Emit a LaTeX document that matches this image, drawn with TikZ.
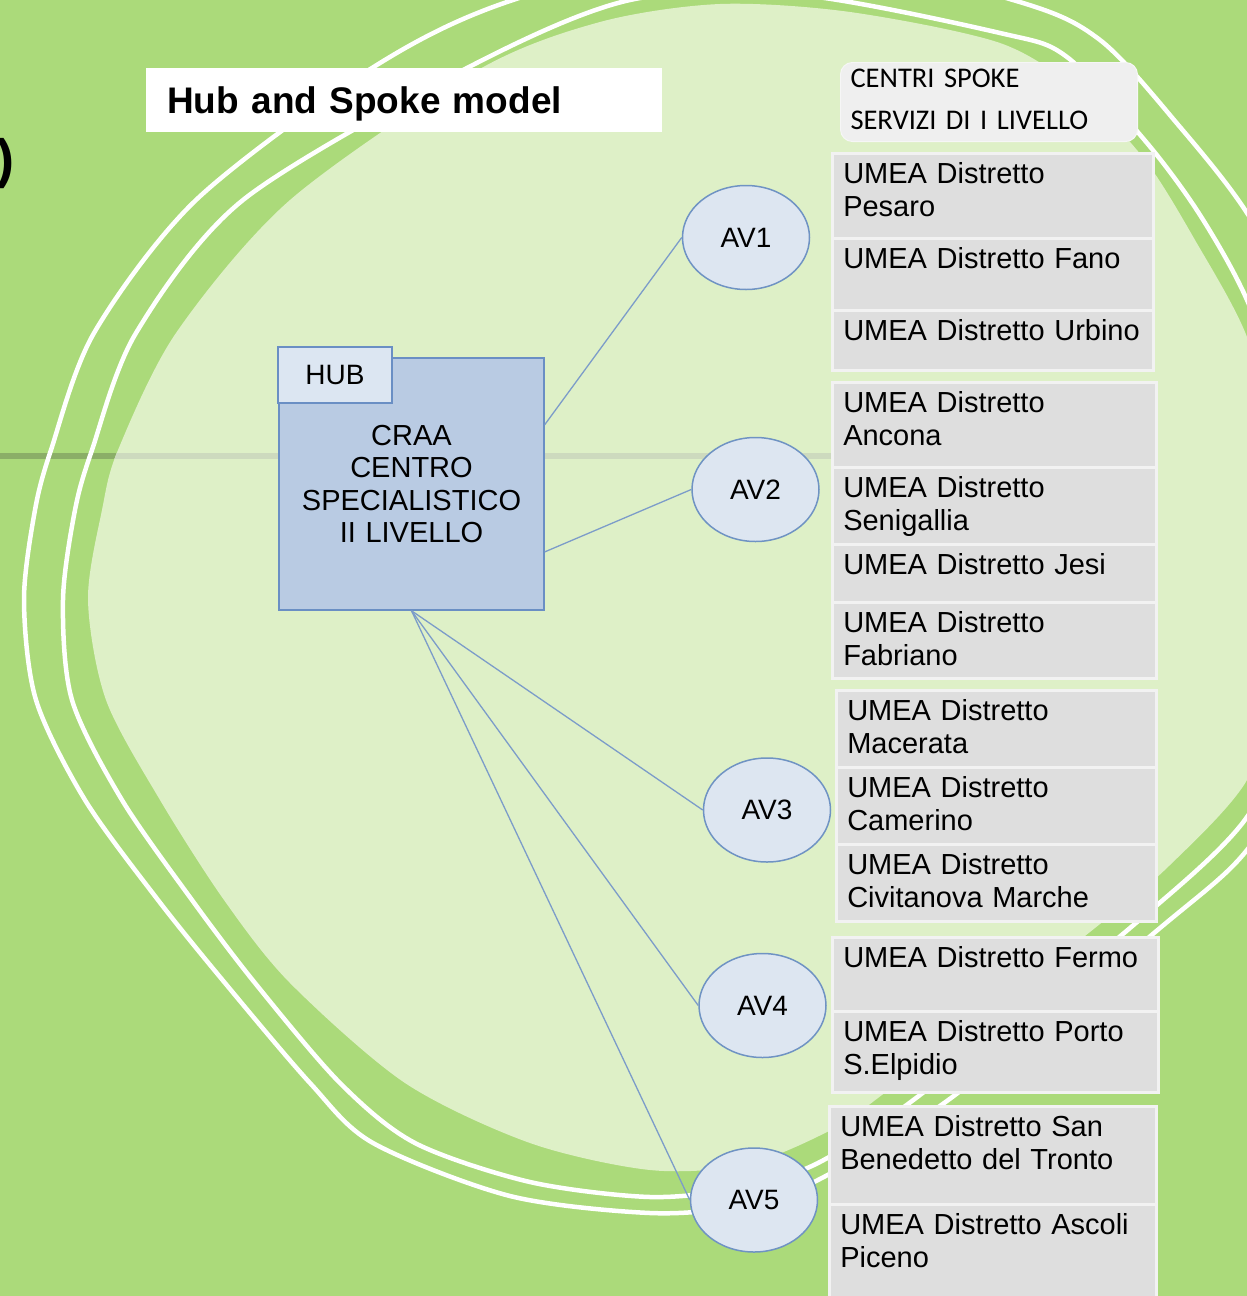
\documentclass[tikz,border=0pt]{standalone}
\usepackage{fontspec}
\setmainfont{Liberation Sans}
\newfontfamily\carlitofont{Carlito}
\usetikzlibrary{shapes.geometric}
\definecolor{bgGreen}{HTML}{ABDA7A}
\definecolor{lightGreen}{HTML}{DEF0C7}
\definecolor{barDark}{HTML}{8BAE67}
\definecolor{barLight}{HTML}{CDDABE}
\definecolor{boxGray}{HTML}{DEDEDE}
\definecolor{boxEdge}{HTML}{F2F2F2}
\definecolor{spokeGray}{HTML}{EFEFEF}
\definecolor{spokeEdge}{HTML}{F6F6F6}
\definecolor{hubFill}{HTML}{B9CBE3}
\definecolor{hubEdge}{HTML}{6A8FC4}
\definecolor{tabFill}{HTML}{DCE6F2}
\definecolor{avFill}{HTML}{DDE6F1}
\definecolor{avEdge}{HTML}{6F93C3}
\definecolor{linkBlue}{HTML}{7C9CC9}
\newcommand\umeafont{\fontsize{29}{33}\selectfont}
\newcommand\blobpts{(290,200) (176,333) (118,450) (102,510) (88,600) (106,700) (160,800) (224,900) (290,983) (405,1083) (530,1143) (650,1170) (745,1165) (825,1133) (878,1098) (1095,928) (1170,865) (1247,780) (1275,680) (1285,560) (1275,450) (1247,337) (1195,240) (1145,160) (1080,92) (1000,43) (850,12) (720,4) (600,22) (478,70)}
\newcommand\innerpts{(243,200) (136,333) (92,450) (75,510) (63,600) (72,700) (122,800) (192,900) (255,983) (340,1083) (415,1143) (530,1182) (650,1197) (740,1188) (818,1163) (916,1098) (1130,928) (1247,817) (1290,700) (1305,560) (1290,420) (1247,300) (1200,215) (1147,143) (1067,57) (1000,33) (800,-5) (630,0) (467,68)}
\newcommand\outerpts{(196,200) (94,333) (51,450) (35,510) (24,600) (36,700) (85,800) (158,900) (225,983) (310,1083) (373,1143) (510,1196) (650,1213) (740,1206) (818,1180) (951,1098) (1160,928) (1247,850) (1310,740) (1335,560) (1310,330) (1247,213) (1180,127) (1100,40) (1013,0) (760,-60) (513,0) (372,68)}
\begin{document}
\begin{tikzpicture}[x=1pt,y=-1pt,
  umea/.style={rectangle, draw=boxEdge, line width=2.5, fill=boxGray, anchor=north west,
    inner xsep=11, inner ysep=0, text width=#1, align=left, text height=30pt, font=\umeafont},
  avnode/.style={ellipse, draw=avEdge, line width=1.5, fill=avFill, minimum width=127,
    minimum height=104, inner sep=0, font=\fontsize{28}{32}\selectfont},
  hubbox/.style={rectangle, draw=hubEdge, line width=1.5, fill=hubFill, minimum width=265,
    minimum height=252, inner sep=0, text width=255, align=center, font=\fontsize{29}{32.5}\selectfont},
  hubtab/.style={rectangle, draw=hubEdge, line width=1.5, fill=tabFill, minimum width=114,
    minimum height=56, inner sep=0, font=\fontsize{28}{32}\selectfont},
  spokehead/.style={rectangle, rounded corners=12, fill=spokeGray, draw=spokeEdge, line width=1,
    anchor=north west, inner xsep=10, inner ysep=0, text width=277, align=left,
    text height=25pt, text depth=54pt, font=\carlitofont\fontsize{28.5}{42}\selectfont},
  titlebox/.style={rectangle, fill=white, anchor=north west, minimum height=64, inner xsep=21,
    inner ysep=0, text width=474, align=left, text depth=0pt, font=\bfseries\fontsize{37}{44}\selectfont},
  link/.style={draw=linkBlue, line width=1.3},
  whiteline/.style={draw=white, line width=4.5},
  bar/.style={line width=6}
]
\useasboundingbox (0,0) rectangle (1247,1296);
\clip (0,0) rectangle (1247,1296);
\fill[bgGreen] (0,0) rectangle (1247,1296);
\coordinate (barL) at (0,456);
\coordinate (barR) at (831,456);
\draw[bar, barDark] (barL) -- (barR);
\fill[lightGreen] plot[smooth cycle] coordinates {\blobpts};
\begin{scope}
  \clip plot[smooth cycle] coordinates {\blobpts};
  \draw[bar, barLight] (barL) -- (barR);
\end{scope}
\draw[whiteline] plot[smooth cycle] coordinates {\innerpts};
\draw[whiteline] plot[smooth cycle] coordinates {\outerpts};

\node[anchor=base west, inner sep=0, font=\bfseries\fontsize{54}{60}\selectfont] (paren) at (-4,177) {)};
\node[titlebox] (title) at (146,68) {Hub and Spoke model};

\node[hubbox] (hub) at (411.5,484) {CRAA\\CENTRO\\SPECIALISTICO\\II LIVELLO};
\node[hubtab] (hubtab) at (335,375) {HUB};

\node[avnode] (av1) at (746,237.5) {AV1};
\node[avnode] (av2) at (755.5,489.5) {AV2};
\node[avnode] (av3) at (767,810) {AV3};
\node[avnode] (av4) at (762.5,1005.5) {AV4};
\node[avnode] (av5) at (754,1200) {AV5};

\draw[link] (hub.24) -- (av1.west);
\draw[link] (hub.-27) -- (av2.west);
\draw[link] (hub.south) -- (av3.west);
\draw[link] (hub.south) -- (av4.west);
\draw[link] (hub.south) -- (av5.west);

\node[spokehead] (spoke) at (840,62) {CENTRI SPOKE\\SERVIZI DI I LIVELLO};

\node[umea=299, text depth=55pt] (pesaro) at (831,152) {UMEA Distretto\\Pesaro};
\node[umea=299, text depth=42pt] (fano) at (831,237) {UMEA Distretto Fano};
\node[umea=299, text depth=30pt] (urbino) at (831,309) {UMEA Distretto Urbino};

\node[umea=302, text depth=55pt] (ancona) at (831,381) {UMEA Distretto\\Ancona};
\node[umea=302, text depth=47pt] (senigallia) at (831,466) {UMEA Distretto\\Senigallia};
\node[umea=302, text depth=28pt] (jesi) at (831,543) {UMEA Distretto Jesi};
\node[umea=302, text depth=46pt] (fabriano) at (831,601) {UMEA Distretto\\Fabriano};

\node[umea=298, text depth=47pt] (macerata) at (835,689) {UMEA Distretto\\Macerata};
\node[umea=298, text depth=47pt] (camerino) at (835,766) {UMEA Distretto\\Camerino};
\node[umea=298, text depth=47pt] (civitanova) at (835,843) {UMEA Distretto\\Civitanova Marche};

\node[umea=304, text depth=44pt] (fermo) at (831,936) {UMEA Distretto Fermo};
\node[umea=304, text depth=51pt] (porto) at (831,1010) {UMEA Distretto Porto\\S.Elpidio};

\node[umea=305, text depth=68pt] (sanbenedetto) at (828,1105) {UMEA Distretto San\\Benedetto del Tronto};
\node[umea=305, text depth=70pt] (ascoli) at (828,1203) {UMEA Distretto Ascoli\\Piceno};
\end{tikzpicture}
\end{document}
